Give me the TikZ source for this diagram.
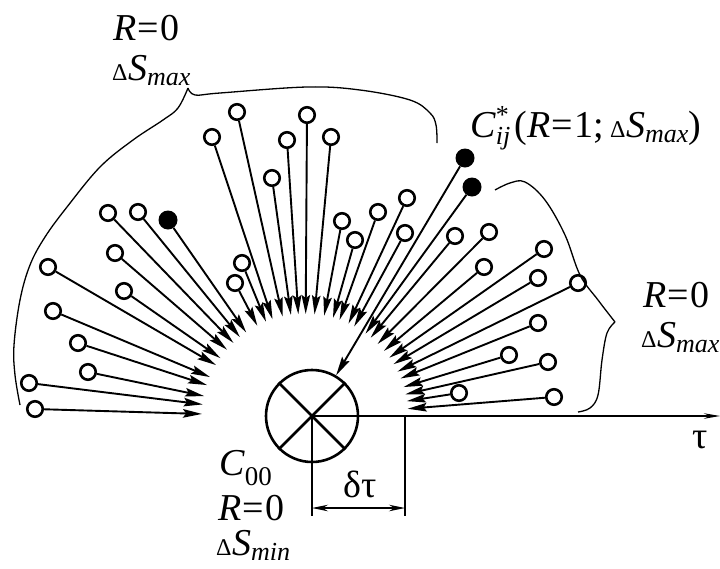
\documentclass[tikz,border=0pt]{standalone}
\usepackage{fontspec}
\IfFontExistsTF{LiberationSerif-Regular.ttf}
  {\setmainfont{LiberationSerif}[Extension=.ttf, UprightFont=*-Regular, ItalicFont=*-Italic,
     BoldFont=*-Bold, BoldItalicFont=*-BoldItalic]}
  {\setmainfont{Liberation Serif}}
\usetikzlibrary{calc,arrows.meta}

\newcommand{\dS}[1]{{\fontsize{24pt}{24pt}\selectfont Δ}\kern0.5pt\textit{S}\raisebox{-5pt}{\fontsize{26pt}{26pt}\selectfont\itshape #1}}
\newcommand{\Req}[1]{\textit{R}\kern1.5pt=\kern1.5pt#1}

\tikzset{
  hole/.style={circle, draw, line width=2.6pt, fill=white, inner sep=0pt, minimum size=15.5pt},
  fulldot/.style={circle, fill, inner sep=0pt, minimum size=19pt},
  ray/.style={line width=1.9pt, -{Stealth[length=19pt,width=8.5pt,inset=3pt]}},
  axis/.style={line width=1.2pt},
  dimtip/.style={{Stealth[length=16pt,width=6.5pt]}-{Stealth[length=16pt,width=6.5pt]}},
  lbl/.style={anchor=base west, inner sep=0pt, font=\fontsize{38pt}{40pt}\selectfont},
  brace/.style={line width=1.3pt}
}

\begin{document}
\begin{tikzpicture}[x=1pt, y=-1pt]
        \useasboundingbox (0,0) rectangle (720,568);
        % --- 1. Parameters ---
        \def\tipR{103pt}   % radius of the arc of arrow tips
        \coordinate (F) at (305,417);

        % --- 2. Central element C00 and time axis ---
        \node[circle, draw, line width=2.6pt, minimum size=92pt, inner sep=0pt] (c00) at (312,416) {};
        \draw[line width=2.6pt] (c00.north west) -- (c00.south east)
                                (c00.north east) -- (c00.south west);
        \coordinate (tauend) at (720,416);
        \draw[axis, -{Stealth[length=16pt,width=5.5pt]}] (c00.center) -- (tauend);
        \node[lbl] (tau) at (692,448) {τ};

        % delta tau dimension
        \coordinate (vl) at (312,516);
        \coordinate (vrtop) at (405,416);
        \coordinate (vr) at (405,516);
        \draw[axis] (c00.center) -- (vl);
        \draw[axis] (vrtop) -- (vr);
        \coordinate (dl) at (312,508);
        \coordinate (dr) at (405,508);
        \draw[axis, dimtip] (dl) -- (dr);
        \node[lbl] (dtau) at (343,497) {δτ};

        % --- 3. States converging to C00 ---
        % open circles, arrow tips on the arc of radius \tipR
        \foreach \x/\y [count=\i] in {35/409, 29/383, 88/372, 78/343, 53/311, 124/291,
                48/267, 115/253, 108/213, 138/212, 212/137, 237/112, 242/263, 235/283,
                272/178, 287/140, 307/115, 331/137, 342/221, 355/240, 378/212, 407/198,
                405/233, 455/236, 489/232, 484/267, 544/249, 538/278, 578/283, 538/323,
                509/355, 548/362, 459/393, 554/397} {
            \node[hole] (p\i) at (\x,\y) {};
            \coordinate (t\i) at ($(F)!\tipR!(p\i)$);
            \draw[ray] (p\i) -- (t\i);
        }

        % filled states
        \node[fulldot] (d1) at (168,220) {};
        \coordinate (td1) at ($(F)!\tipR!(d1)$);
        \draw[ray] (d1) -- (td1);
        \node[fulldot] (d2) at (472,187) {};
        \coordinate (td2) at ($(F)!\tipR!(d2)$);
        \draw[ray] (d2) -- (td2);
        % C*_ij goes straight to C00
        \node[fulldot] (cstar) at (465,158) {};
        \draw[ray] (cstar) -- (c00);

        % --- 4. Braces ---
        \draw[brace] plot[smooth, tension=0.6] coordinates {(20,405) (15,375) (14,345) (20,300)
                (30,265) (45,237) (67,207) (100,167) (133,140) (163,120) (178,108) (188,88)};
        \draw[brace] plot[smooth, tension=0.6] coordinates {(188,88) (195,95) (220,93) (307,87)
                (360,90) (410,100) (430,113) (436,125) (437,143)};
        \draw[brace] plot[smooth, tension=0.6] coordinates {(495,190) (510,183) (525,182) (545,200)
                (565,235) (580,275) (598,300) (615,322)};
        \draw[brace] plot[smooth, tension=0.6] coordinates {(615,322) (607,333) (602,360) (598,395)
                (590,408) (578,412)};

        % --- 5. Labels ---
        \node[lbl] (rtop) at (113,40) {\Req{0}};
        \node[lbl] (stop) at (112,80) {\dS{max}};
        \node[lbl] (rright) at (643,307) {\Req{0}};
        \node[lbl] (sright) at (641,347) {\dS{max}};
        \node[lbl] (cij) at (470,137) {\textit{C}\rlap{\raisebox{14pt}{\fontsize{26pt}{26pt}\selectfont *}}\raisebox{-7pt}{\fontsize{26pt}{26pt}\selectfont\itshape ij}\kern4pt(\Req{1};\kern6pt\dS{max})};
        \node[lbl] (c00lbl) at (219,475) {\textit{C}\raisebox{-10pt}{\fontsize{27pt}{27pt}\selectfont 00}};
        \node[lbl] (rbot) at (218,520) {\Req{0}};
        \node[lbl] (sbot) at (216,555) {\dS{min}};
\end{tikzpicture}
\end{document}
